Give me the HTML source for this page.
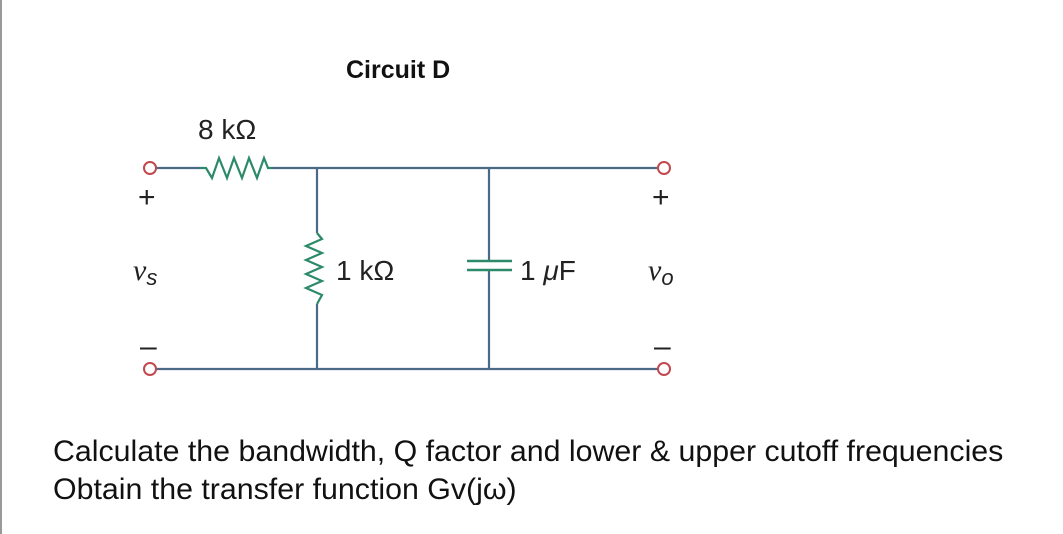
<!DOCTYPE html>
<html><head><meta charset="utf-8"><style>
body{margin:0;width:1063px;height:534px;background:#fff;overflow:hidden;position:relative;font-family:"Liberation Sans",sans-serif}
.t{position:absolute;left:53px;font-size:30px;line-height:34px;color:#111;white-space:nowrap;transform-origin:0 0;transform:scaleX(1.011)}
</style></head><body>
<div style="position:absolute;left:0;top:0;width:2px;height:534px;background:#999"></div>
<svg width="1063" height="534" style="position:absolute;left:0;top:0">
<g stroke="#4a6a86" stroke-width="2.2" fill="none">
<line x1="156" y1="168" x2="200" y2="168"/>
<line x1="272" y1="168" x2="658" y2="168"/>
<line x1="156" y1="369" x2="658" y2="369"/>
<line x1="317" y1="168" x2="317" y2="233"/>
<line x1="317" y1="304" x2="317" y2="369"/>
<line x1="489" y1="168" x2="489" y2="261"/>
<line x1="489" y1="270" x2="489" y2="369"/>
</g>
<g stroke="#2d8a68" stroke-width="2.2" fill="none">
<polyline points="200,168 206,168 212,178 219,158 227,178 234,158 242,178 249,158 257,178 264,158 268,168 272,168"/>
<polyline points="317,233 322,239 306,246 322,253 306,260 322,267 306,274 322,281 306,288 322,295 317,304"/>
<line x1="467" y1="261" x2="512" y2="261" stroke-width="2.6"/>
<line x1="467" y1="270" x2="512" y2="270" stroke-width="2.6"/>
</g>
<g stroke="#c24850" stroke-width="2" fill="#fff">
<circle cx="150" cy="168" r="6"/><circle cx="150" cy="369" r="6"/>
<circle cx="664" cy="168" r="6"/><circle cx="664" cy="369" r="6"/>
</g>
<g font-family="Liberation Sans,sans-serif" fill="#222" font-size="28">
<text x="198" y="139">8 kΩ</text>
<text x="336" y="280">1 kΩ</text>
<text x="520" y="280">1 <tspan font-style="italic">μ</tspan>F</text>
<text x="138" y="207" font-size="30">+</text>
<text x="652" y="207" font-size="30">+</text>
<text x="140" y="356" font-size="30">–</text>
<text x="654" y="356" font-size="30">–</text>
</g>
<g font-family="Liberation Serif,serif" font-style="italic" fill="#222">
<text x="133" y="280" font-size="30">v<tspan font-size="22" dy="5" font-family="Liberation Sans,sans-serif">s</tspan></text>
<text x="648" y="280" font-size="30">v<tspan font-size="22" dy="5" font-family="Liberation Sans,sans-serif">o</tspan></text>
</g>
<text x="346" y="78" font-family="Liberation Sans,sans-serif" font-weight="bold" font-size="25" fill="#111">Circuit D</text>
</svg>
<div class="t" style="top:435px">Calculate the bandwidth, Q factor and lower &amp; upper cutoff frequencies</div>
<div class="t" style="top:473px">Obtain the transfer function Gv(jω)</div>
</body></html>
